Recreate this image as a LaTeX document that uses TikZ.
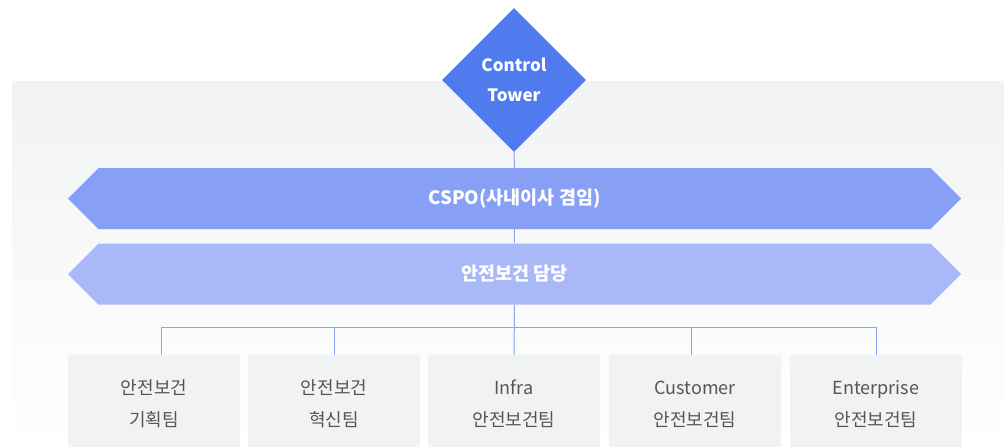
\documentclass[tikz,border=0pt]{standalone}
\usepackage{fontspec}
\setmainfont{Noto Sans CJK KR}
\usetikzlibrary{shapes.geometric,shapes.symbols}

\definecolor{towerblue}{HTML}{4F7BEE}
\definecolor{cspoblue}{HTML}{87A0F5}
\definecolor{safeblue}{HTML}{A9B9F8}
\definecolor{linkblue}{HTML}{8AA3F5}
\definecolor{panelgray}{HTML}{F1F3F2}
\definecolor{teamtext}{HTML}{555555}

\tikzset{
    banner/.style={shape=signal, signal to=west and east, signal pointer angle=90,
        minimum width=893pt, minimum height=61pt, inner sep=0pt,
        text=white, font=\bfseries\fontsize{18.5}{20}\selectfont},
    teambox/.style={fill=panelgray, minimum width=172pt, minimum height=98pt,
        inner sep=0pt, align=center, text=teamtext,
        font=\fontsize{18}{31}\selectfont},
    link/.style={draw=linkblue, line width=1pt}
}

\begin{document}
\begin{tikzpicture}[x=1pt, y=-1pt]
        \useasboundingbox (0,0) rectangle (1004,447);

        % Fondo
        \shade[top color=panelgray, bottom color=white] (12,81) rectangle (1004,447);

        % Control Tower y bandas
        \node[diamond, aspect=1, fill=towerblue, minimum width=144pt, minimum height=144pt,
              inner sep=0pt, align=center, text=white,
              font=\bfseries\fontsize{17}{30}\selectfont] (tower) at (514,80) {Control\\Tower};
        \node[banner, fill=cspoblue] (cspo) at (514.5,198.5) {CSPO(사내이사 겸임)};
        \node[banner, fill=safeblue] (safety) at (514.5,274) {안전보건 담당};

        % Equipos (la caja sigue por debajo del borde)
        \node[teambox] (team1) at (154,404) {안전보건\\[1pt]기획팀};
        \node[teambox] (team2) at (334,404) {안전보건\\[1pt]혁신팀};
        \node[teambox] (team3) at (514,404) {Infra\\[1pt]안전보건팀};
        \node[teambox] (team4) at (695,404) {Customer\\[1pt]안전보건팀};
        \node[teambox] (team5) at (876,404) {Enterprise\\[1pt]안전보건팀};

        % Conexiones
        \coordinate (hub) at (514,327);
        \draw[link] (tower.south) -- (cspo.north);
        \draw[link] (cspo.south) -- (safety.north);
        \draw[link] (safety.south) -- (team3.north);
        \draw[link] (hub) -| ([xshift=7pt]team1.north);
        \draw[link] (hub) -| (team2.north);
        \draw[link] (hub) -| ([xshift=-4pt]team4.north);
        \draw[link] (hub) -| (team5.north);
    \end{tikzpicture}
\end{document}
